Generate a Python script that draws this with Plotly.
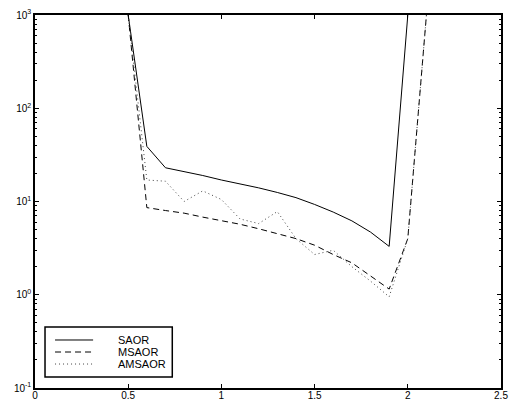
import plotly.graph_objects as go

x_saor = [0.5, 0.6, 0.7, 0.8, 0.9, 1.0, 1.1, 1.2, 1.3, 1.4, 1.5, 1.6, 1.7, 1.8, 1.9, 2.0]
saor = [1000, 39, 23, 21, 19, 17, 15.5, 14, 12.5, 11, 9.3, 7.7, 6.2, 4.7, 3.3, 1000]

x_ms = [0.5, 0.6, 0.7, 0.8, 0.9, 1.0, 1.1, 1.2, 1.3, 1.4, 1.5, 1.6, 1.7, 1.8, 1.9, 2.0, 2.1]
msaor = [1000, 8.6, 8.0, 7.5, 6.8, 6.2, 5.7, 5.1, 4.5, 4.0, 3.4, 2.7, 2.2, 1.6, 1.15, 4.0, 1000]
amsaor = [1000, 17, 16.5, 10, 13, 10.5, 6.5, 5.8, 7.8, 4.0, 2.7, 3.0, 2.0, 1.4, 0.95, 4.0, 1000]

names = ["SAOR", "MSAOR", "AMSAOR"]
xticks = [0, 0.5, 1, 1.5, 2, 2.5]
xtick_text = ["0", "0.5", "1", "1.5", "2", "2.5"]
ytick_exp = [-1, 0, 1, 2, 3]

styles = [
    dict(color="black", width=1),
    dict(color="black", width=1, dash="6px,4px"),
    dict(color="#444", width=1, dash="1px,3px"),
]

fig = go.Figure()
fig.add_trace(go.Scatter(x=x_saor, y=saor, mode="lines", name=names[0], line=styles[0]))
fig.add_trace(go.Scatter(x=x_ms, y=msaor, mode="lines", name=names[1], line=styles[1]))
fig.add_trace(go.Scatter(x=x_ms, y=amsaor, mode="lines", name=names[2], line=styles[2]))

font = dict(family="Liberation Sans, Arial, sans-serif", size=10, color="black")
minor_vals = [m * 10 ** e for e in range(-1, 3) for m in range(2, 10)]

# compact legend box drawn in paper coordinates
fig.add_shape(type="rect", xref="paper", yref="paper",
              x0=0.0215, x1=0.2946, y0=0.0295, y1=0.1635,
              line=dict(color="black", width=1.5), fillcolor="white", layer="above")
row_y = [0.1287, 0.0965, 0.0643]
for name, st, yy in zip(names, styles, row_y):
    fig.add_shape(type="line", xref="paper", yref="paper",
                  x0=0.043, x1=0.1247, y0=yy, y1=yy, line=st, layer="above")
    fig.add_annotation(xref="paper", yref="paper", x=0.1742, y=yy, text=name,
                       showarrow=False, xanchor="left", yanchor="middle",
                       font=dict(family="Liberation Sans, Arial, sans-serif", size=11, color="black"))

fig.update_layout(
    width=511, height=402,
    margin=dict(l=35, r=10, t=15, b=14),
    paper_bgcolor="white", plot_bgcolor="white",
    font=font,
    showlegend=False,
    xaxis=dict(range=[0, 2.5], tickvals=xticks, ticktext=xtick_text,
               ticks="inside", ticklen=4, tickcolor="black",
               ticklabelstandoff=-3,
               showline=True, linecolor="black", linewidth=1.5, mirror="ticks",
               showgrid=False, zeroline=False, automargin=False),
    yaxis=dict(type="log", range=[-1, 3],
               tickvals=[10 ** e for e in ytick_exp],
               ticktext=["10<sup>%d</sup>" % e for e in ytick_exp],
               ticks="inside", ticklen=4, tickcolor="black",
               minor=dict(tickvals=minor_vals, ticks="inside", ticklen=2, tickcolor="black"),
               showline=True, linecolor="black", linewidth=1.5, mirror="ticks",
               showgrid=False, zeroline=False, automargin=False),
)

fig.write_html("out.html")
